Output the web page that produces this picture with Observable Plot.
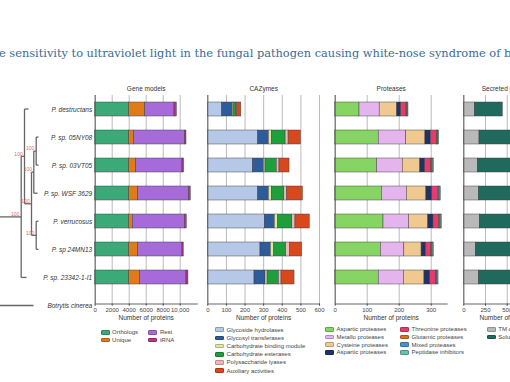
<!DOCTYPE html>
<html><head><meta charset="utf-8">
<script src="https://cdn.jsdelivr.net/npm/d3@7"></script>
<script src="https://cdn.jsdelivr.net/npm/@observablehq/plot@0.6"></script>
<style>
html,body{margin:0;padding:0;background:#fff;}
#fig{position:relative;width:510px;height:382px;overflow:hidden;background:#fff;font-family:"Liberation Sans",Arial,sans-serif;}
#fig svg{position:absolute;left:0;top:0;}
.legend{position:absolute;display:grid;grid-auto-flow:column;font-size:6px;color:#444;}
.legend .item{display:flex;align-items:center;white-space:nowrap;}
.legend .sw{display:inline-block;box-sizing:border-box;width:9px;height:4.6px;border:0.8px solid;margin-right:2.6px;border-radius:1px;}
</style></head><body><div id="fig"></div>
<script>
// ---------------- data ----------------
const species = ["P. destructans","P. sp. 05NY08","P. sp. 03VT05","P. sp. WSF 3629","P. verrucosus","P. sp 24MN13","P. sp. 23342-1-I1","Botrytis cinerea"];

// Gene models
const geneClasses = ["Orthologs","Unique","Rest","tRNA"];
const geneColors  = ["#3caa78","#e07b1a","#a66bd9","#b8358a"];
const orthologs = [4000,4000,4000,4000,4000,4000,4000];
const unique    = [1880,590,820,1060,430,1060,1290];
const rest      = [3450,5950,5450,5990,6110,5210,5450];
const trna      = [270,200,190,190,230,150,230];
const geneTicks = [0,2000,4000,6000,8000,10000];

// CAZymes
const cazClasses = ["Glycoside hydrolases","Glycosyl transferases","Carbohydrate binding module","Carbohydrate esterases","Polysaccharide lyases","Auxiliary activities"];
const cazColors  = ["#b5c8e8","#2e5c9a","#dde8a4","#1f9e3c","#f3b6b8","#d8481c"];
const glycosideHydrolases   = [77,271,242,271,306,283,251];
const glycosylTransferases  = [57,57,59,57,54,56,59];
const carbBindingModule     = [8,16,9,16,18,18,11];
const carbEsterases         = [11,74,61,67,76,64,61];
const polysaccharideLyases  = [5,16,14,16,17,22,14];
const auxiliaryActivities   = [22,66,54,84,77,64,70];
const cazTicks = [0,100,200,300,400,500,600];

// Proteases
const protClasses = ["Aspartic proteases","Metallo proteases","Cysteine proteases","Aspartic proteases","Threonine proteases","Glutamic proteases","Mixed proteases","Peptidase inhibitors"];
const protColors  = ["#86d463","#e3b4ee","#efc98f","#1f3366","#e83a6c","#d9731f","#4a93cf","#6cbfae"];
const asparticA   = [76,136,131,146,151,143,136];
const metallo     = [63,86,80,78,80,73,79];
const cysteine    = [55,60,55,61,60,54,64];
const asparticB   = [12,17,15,18,16,14,18];
const threonine   = [17,19,19,18,18,16,18];
const glutamic    = [2,2,2,3,2,2,2];
const mixed       = [2,2,3,3,3,3,3];
const inhibitors  = [2,3,3,3,3,3,3];
const protTicks = [0,100,200,300];

// Secreted proteins
const secClasses = ["TM domain","Soluble"];
const secColors  = ["#b9b9b9","#206a5d"];
const tmSecreted  = [127,181,161,173,184,138,173];
const solSecreted = [322,580,540,600,605,550,570];
const secTicks = [0,250,500,750,1000];

// Phylogeny: [child, parent, branch length, bootstrap]
const treeEdges = [
  ["A","root",26.7,100],
  ["Botrytis cinerea","root",39,null],
  ["C","A",3.3,100],
  ["P. sp. 23342-1-I1","A",5.3,null],
  ["P. destructans","C",4,null],
  ["D","C",7,100],
  ["E","D",2.3,100],
  ["F","D",4.7,100],
  ["E1","E",2.4,100],
  ["P. sp. WSF 3629","E",3.7,null],
  ["P. sp. 05NY08","E1",2.3,null],
  ["P. sp. 03VT05","E1",2.3,null],
  ["P. verrucosus","F",2.3,null],
  ["P. sp 24MN13","F",2.3,null]
];

const titleText = "Extreme sensitivity to ultraviolet light in the fungal pathogen causing white-nose syndrome of bats";

// ---------------- layout ----------------
const W = 510, H = 382;
const frameTop = 95, frameBottom = 303.5;
const yRange = [94.47, 319.04];
const FONT = "'Liberation Sans', Arial, sans-serif";
const fig = d3.select("#fig");

function longData(classes, arrays) {
  return species.slice(0, 7).flatMap((s, i) => arrays.map((arr, k) => ({species: s, k, cls: classes[k], value: arr[i]})));
}

function panel({data, classes, colors, domain, xr, ticks, tickFormat, title, showY, width = W}) {
  const marks = [
    Plot.gridX(ticks, {stroke: "#9d9d9d", strokeOpacity: 1, strokeWidth: 0.7}),
    Plot.barX(data, Plot.stackX({y: "species", x: "value", fill: "k", stroke: "#3a3a3a", strokeWidth: 0.45})),
    Plot.ruleX([0], {stroke: "#555", strokeWidth: 0.9}),
    Plot.frame({anchor: "bottom", stroke: "#555", strokeWidth: 0.9}),
    Plot.axisX({ticks, tickFormat: tickFormat || (d => String(d)), tickSize: 2.2, tickPadding: 1.2, fontSize: 6, color: "#444", label: null}),
    Plot.text([title], {frameAnchor: "top", dy: -9, fontSize: 6.5, fill: "#333"}),
    Plot.text(["Number of proteins"], {frameAnchor: "bottom", dy: 16, fontSize: 6.5, fill: "#333"})
  ];
  if (showY) marks.push(Plot.axisY({tickSize: 0, tickPadding: 3, fontStyle: "italic", fontSize: 6.5, color: "#333", label: null}));
  const svg = Plot.plot({
    width, height: H,
    marginLeft: xr[0], marginRight: width - xr[1], marginTop: frameTop, marginBottom: H - frameBottom,
    style: `max-width:none;background:transparent;font-family:${FONT};font-size:6.5px;overflow:visible;`,
    x: {domain, axis: null},
    y: {domain: species, range: yRange, paddingInner: 0.5, paddingOuter: 0.25, axis: null},
    color: {type: "ordinal", domain: d3.range(classes.length), range: colors},
    marks
  });
  fig.node().appendChild(svg);
}

// Gene models
panel({
  data: longData(geneClasses, [orthologs, unique, rest, trna]),
  classes: geneClasses, colors: geneColors,
  domain: [0, 12000], xr: [94.7, 196.7], ticks: geneTicks,
  tickFormat: d => d >= 10000 ? d3.format(",")(d) : String(d),
  title: "Gene models", showY: true
});
// CAZymes
panel({
  data: longData(cazClasses, [glycosideHydrolases, glycosylTransferases, carbBindingModule, carbEsterases, polysaccharideLyases, auxiliaryActivities]),
  classes: cazClasses, colors: cazColors,
  domain: [0, 600], xr: [207.3, 319], ticks: cazTicks, title: "CAZymes"
});
// Proteases
panel({
  data: longData(protClasses, [asparticA, metallo, cysteine, asparticB, threonine, glutamic, mixed, inhibitors]),
  classes: protClasses, colors: protColors,
  domain: [0, 350], xr: [334.7, 446.7], ticks: protTicks, title: "Proteases"
});
// Secreted proteins
panel({
  data: longData(secClasses, [tmSecreted, solSecreted]),
  classes: secClasses, colors: secColors,
  domain: [0, 1000], xr: [463.3, 550.1], ticks: secTicks, title: "Secreted proteins", width: 620
});

// ---------------- tree ----------------
{
  const parentOf = new Map(treeEdges.map(e => [e[0], e[1]]));
  const lenOf = new Map(treeEdges.map(e => [e[0], e[2]]));
  const supOf = new Map(treeEdges.map(e => [e[0], e[3]]));
  const kids = d3.group(treeEdges, e => e[1]);
  const depth = n => n === "root" ? 0 : depth(parentOf.get(n)) + lenOf.get(n);
  const yOf = n => species.includes(n) ? species.indexOf(n) : d3.mean(kids.get(n), e => yOf(e[0]));
  const nodes = ["root", ...treeEdges.map(e => e[0])];
  const hSegs = treeEdges.map(([c, p]) => ({x1: depth(p), x2: depth(c), y1: yOf(c), y2: yOf(c)}));
  const vSegs = nodes.filter(n => kids.has(n)).map(n => {
    const ys = kids.get(n).map(e => yOf(e[0]));
    return {x1: depth(n), x2: depth(n), y1: d3.min(ys), y2: d3.max(ys)};
  });
  const supports = nodes.filter(n => supOf.get(n) != null).map(n => ({x: depth(n), y: yOf(n), t: String(supOf.get(n))}));
  const svg = Plot.plot({
    width: W, height: H,
    style: `max-width:none;background:transparent;font-family:${FONT};`,
    x: {domain: [0, 45], range: [-6, 39], axis: null},
    y: {domain: [0, 7], range: [108.5, 305], axis: null},
    marks: [
      Plot.link([...vSegs, ...hSegs], {x1: "x1", y1: "y1", x2: "x2", y2: "y2", stroke: "#666", strokeWidth: 1.3}),
      Plot.text(supports, {x: "x", y: "y", text: "t", dx: -1.8, dy: -0.8, lineAnchor: "bottom", textAnchor: "end", fontSize: 5, fill: "#e56a6a"})
    ]
  });
  fig.node().appendChild(svg);
}

// ---------------- title ----------------
{
  const fam = '"DejaVu Serif", serif';
  const ctx = document.createElement("canvas").getContext("2d");
  ctx.font = `10px ${fam}`;
  const span = ctx.measureText("sensitivity to ultraviolet light in the fungal pathogen causing white-nose syndrome of ").width;
  const fs = 10 * (505 - 9.3) / span;
  ctx.font = `${fs}px ${fam}`;
  const pre = ctx.measureText("Extreme ").width;
  const s = fig.append("svg").attr("width", W).attr("height", 70);
  s.append("text").attr("x", 9.3 - pre).attr("y", 56.7)
    .attr("font-family", fam).attr("font-size", fs).attr("fill", "#3b6a96")
    .text(titleText);
}

// ---------------- legends ----------------
function legend(classes, colors, {left, firstRow, rowH, rows, colW}) {
  const div = fig.append("div").attr("class", "legend")
    .style("left", left + "px").style("top", (firstRow - rowH / 2) + "px")
    .style("grid-template-rows", `repeat(${rows}, ${rowH}px)`)
    .style("grid-auto-columns", colW ? colW + "px" : "auto");
  classes.forEach((c, i) => {
    const it = div.append("div").attr("class", "item");
    it.append("span").attr("class", "sw").style("background", colors[i]).style("border-color", d3.color(colors[i]).darker(0.7));
    it.append("span").text(c);
  });
}
legend(geneClasses, geneColors, {left: 100.5, firstRow: 332.3, rowH: 7.7, rows: 2, colW: 47.8});
legend(cazClasses, cazColors, {left: 215, firstRow: 329.7, rowH: 8.2, rows: 6});
legend(protClasses, protColors, {left: 325, firstRow: 329.3, rowH: 7.7, rows: 4, colW: 75});
legend(secClasses, secColors, {left: 486.7, firstRow: 329.3, rowH: 7.5, rows: 2});
</script></body></html>
